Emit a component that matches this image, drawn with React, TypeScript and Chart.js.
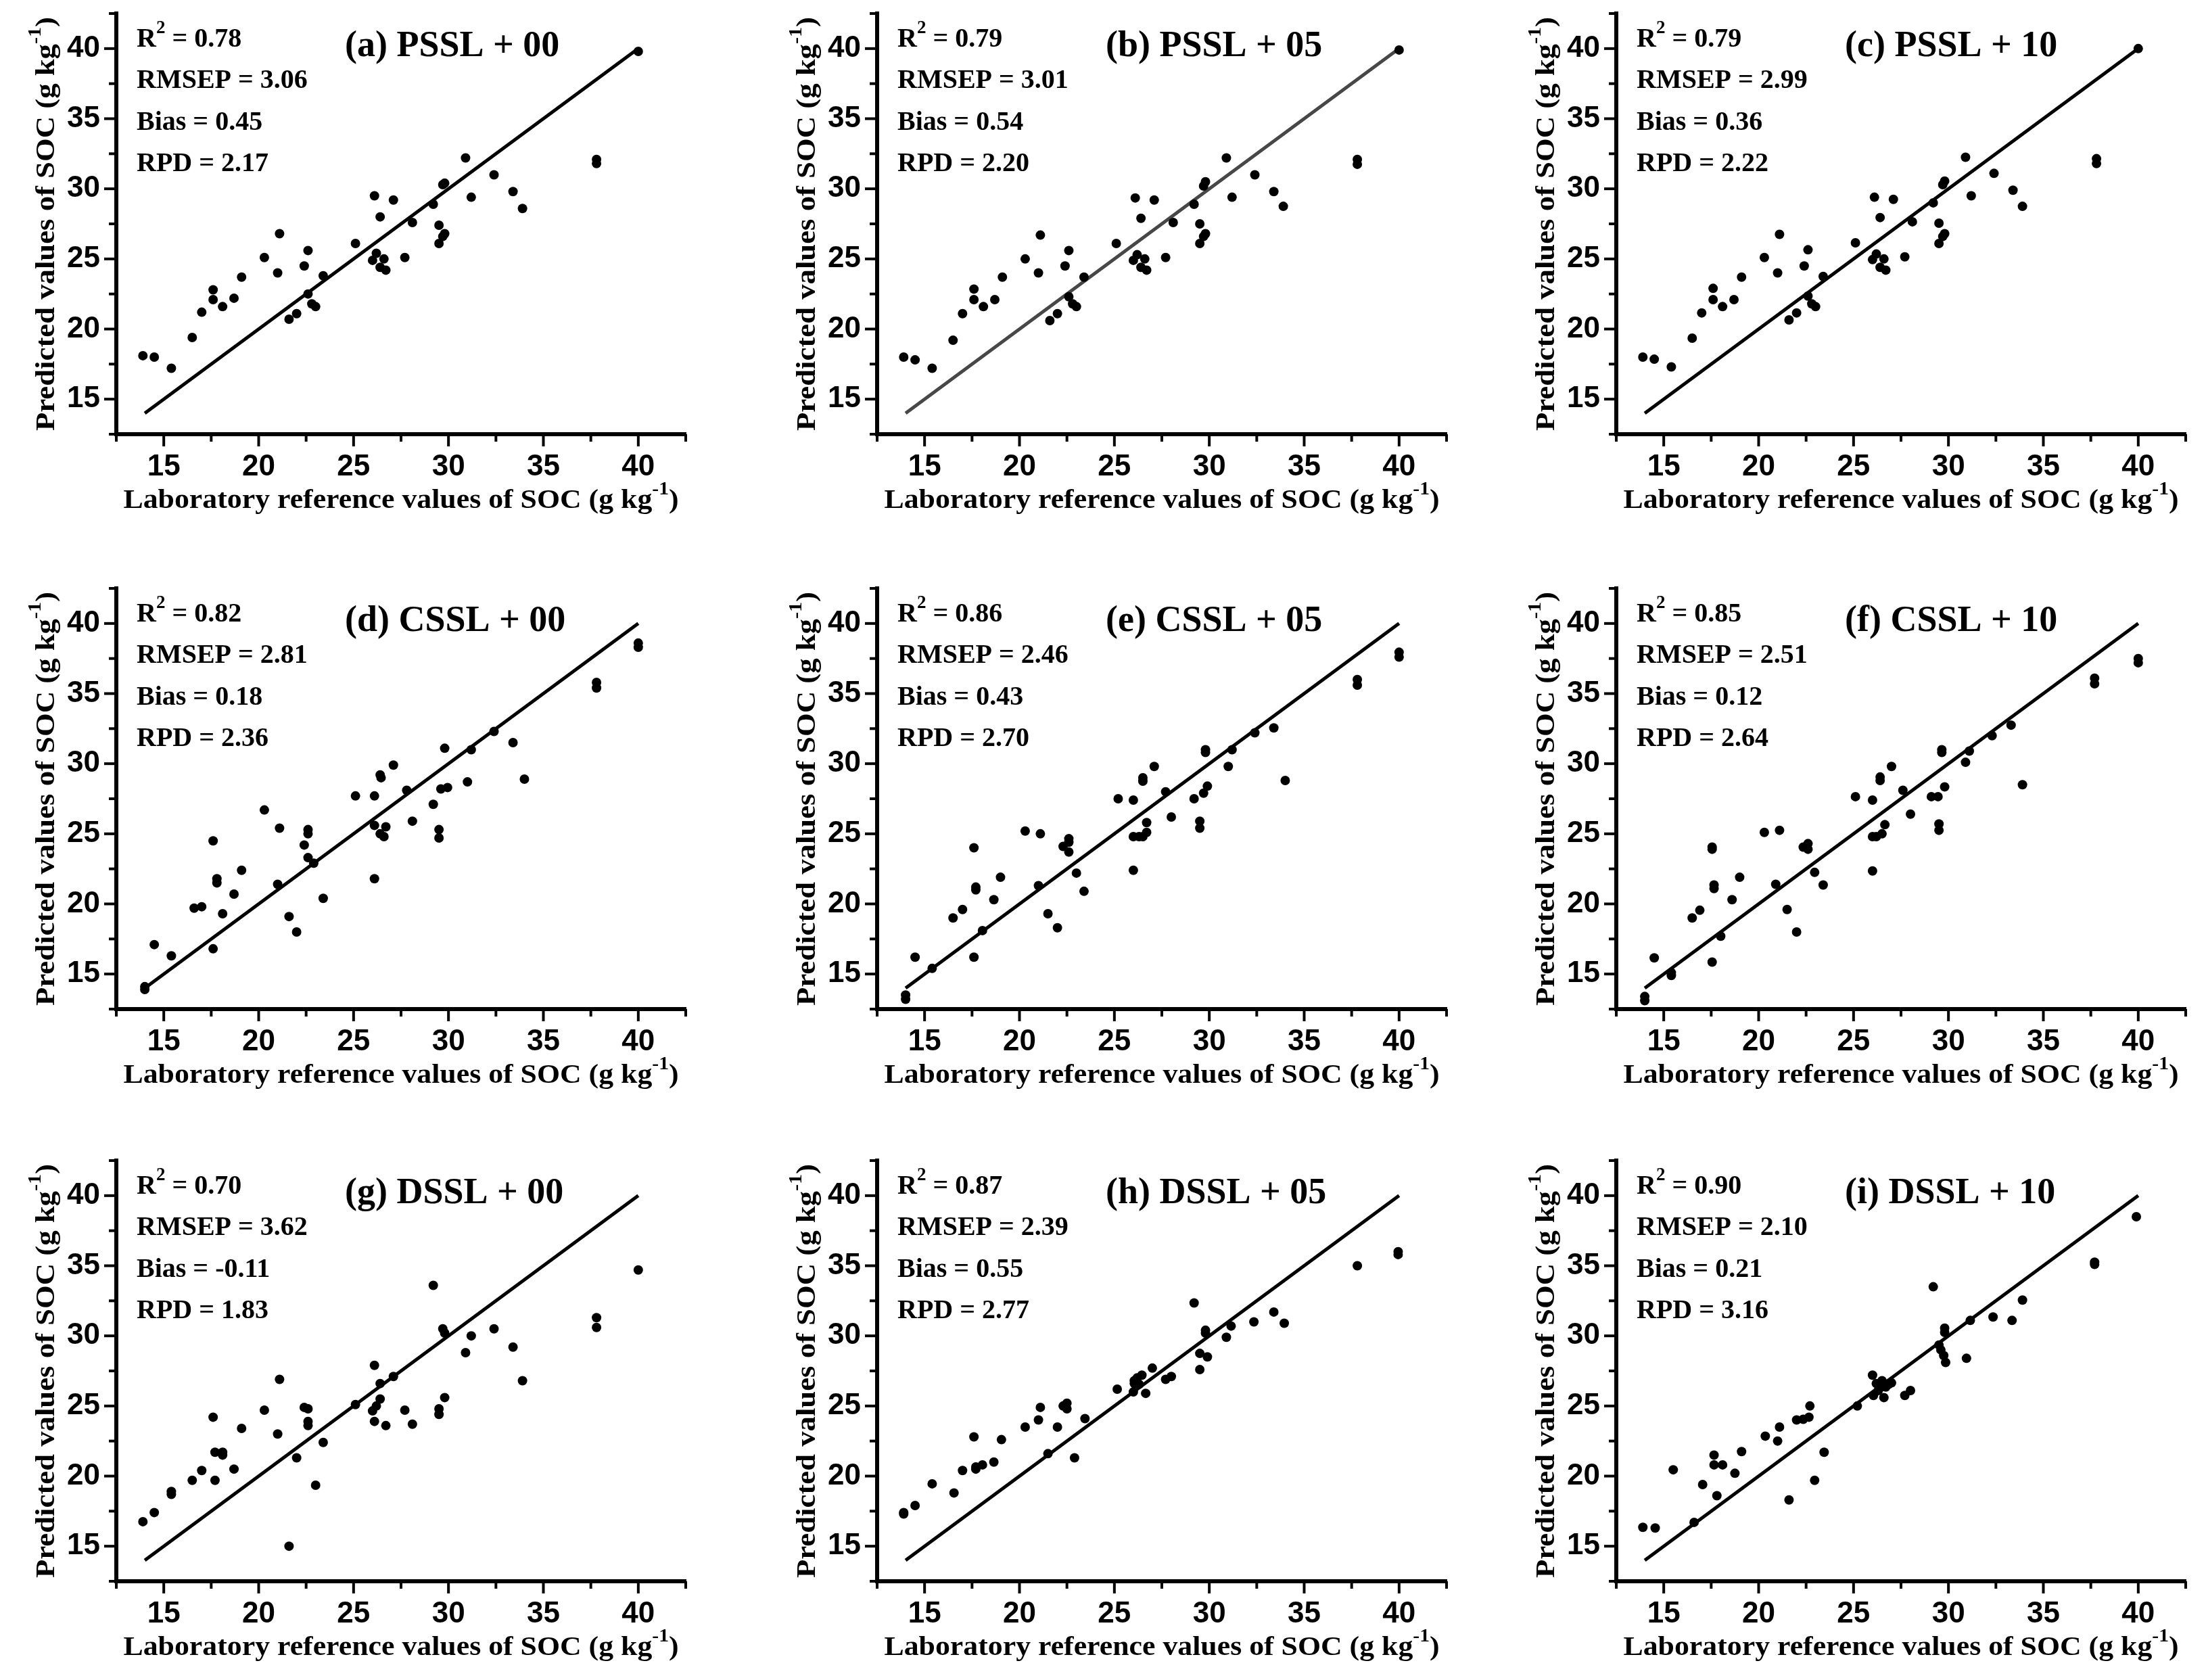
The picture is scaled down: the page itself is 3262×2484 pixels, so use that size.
import React, { useEffect, useRef } from "react";
import { Chart, registerables } from "chart.js";

Chart.register(...registerables);

// ---------------- data ----------------
const labPSSL = [13.9, 14.5, 15.4, 16.5, 17.0, 17.6, 17.6, 18.1, 18.7, 19.1, 20.3, 21.0, 21.1, 21.6, 22.0, 22.4, 22.6, 22.6, 22.8, 23.0, 23.4, 25.1, 26.1, 26.0, 26.2, 26.4, 26.4, 26.6, 26.7, 27.1, 27.7, 28.1, 29.2, 29.5, 29.5, 29.7, 29.8, 29.7, 29.8, 30.9, 31.2, 32.4, 33.4, 33.9, 37.8, 37.8, 40.0];
const predA = [18.1, 18.0, 17.2, 19.4, 21.2, 22.8, 22.1, 21.6, 22.2, 23.7, 25.1, 24.0, 26.8, 20.7, 21.1, 24.5, 25.6, 22.5, 21.8, 21.6, 23.8, 26.1, 29.5, 24.9, 25.4, 24.4, 28.0, 25.0, 24.2, 29.2, 25.1, 27.6, 28.9, 27.4, 26.1, 26.6, 26.8, 30.3, 30.4, 32.2, 29.4, 31.0, 29.8, 28.6, 32.1, 31.8, 39.8];
const predB = [18.0, 17.8, 17.2, 19.2, 21.1, 22.85, 22.1, 21.6, 22.1, 23.7, 25.0, 24.0, 26.7, 20.6, 21.1, 24.5, 25.6, 22.3, 21.8, 21.6, 23.7, 26.1, 29.35, 24.9, 25.3, 24.4, 27.9, 25.0, 24.2, 29.2, 25.1, 27.6, 28.9, 27.5, 26.1, 26.6, 26.8, 30.2, 30.5, 32.2, 29.4, 31.0, 29.8, 28.75, 32.1, 31.75, 39.9];
const predC = [18.0, 17.85, 17.3, 19.35, 21.15, 22.9, 22.1, 21.6, 22.1, 23.7, 25.1, 24.0, 26.75, 20.65, 21.15, 24.5, 25.65, 22.35, 21.8, 21.6, 23.75, 26.15, 29.4, 24.95, 25.35, 24.4, 27.95, 25.0, 24.2, 29.25, 25.15, 27.65, 29.0, 27.55, 26.1, 26.6, 26.8, 30.3, 30.55, 32.25, 29.5, 31.1, 29.9, 28.75, 32.15, 31.8, 40.0];

const labD = [14.0, 14.0, 14.5, 15.4, 16.6, 17.0, 17.6, 17.6, 17.8, 17.8, 18.1, 18.7, 19.1, 20.3, 21.0, 21.1, 21.6, 22.0, 22.4, 22.6, 22.6, 22.6, 22.9, 23.4, 25.1, 26.1, 26.1, 26.1, 26.4, 26.45, 26.4, 26.6, 26.7, 27.1, 27.8, 28.1, 29.2, 29.5, 29.5, 29.6, 29.8, 29.95, 31.0, 31.2, 32.4, 33.4, 34.0, 37.8, 37.8, 40.0, 40.0];
const predD = [14.1, 13.9, 17.1, 16.3, 19.7, 19.8, 24.5, 16.8, 21.8, 21.5, 19.3, 20.7, 22.4, 26.7, 21.4, 25.4, 19.1, 18.0, 24.2, 25.3, 25.0, 23.3, 22.9, 20.4, 27.7, 27.7, 25.6, 21.8, 29.2, 29.0, 25.0, 24.8, 25.5, 29.9, 28.1, 25.9, 27.1, 25.3, 24.7, 28.2, 31.1, 28.3, 28.7, 31.0, 32.3, 31.5, 28.9, 35.8, 35.4, 38.6, 38.3];

const labE = [14.0, 14.0, 14.5, 15.4, 16.5, 17.0, 17.6, 17.6, 17.7, 17.7, 18.05, 18.65, 19.0, 20.3, 21.0, 21.1, 21.5, 22.0, 22.3, 22.6, 22.6, 22.6, 23.0, 23.4, 25.2, 26.0, 26.0, 26.0, 26.5, 26.5, 26.3, 26.5, 26.7, 26.7, 27.1, 27.7, 28.0, 29.2, 29.5, 29.5, 29.7, 29.8, 29.8, 29.9, 31.0, 31.2, 32.4, 33.4, 34.0, 37.8, 37.8, 40.0, 40.0];
const predE = [13.5, 13.2, 16.2, 15.4, 19.0, 19.6, 24.0, 16.2, 21.2, 21.0, 18.1, 20.3, 21.9, 25.2, 21.3, 25.0, 19.3, 18.3, 24.1, 24.65, 24.4, 23.7, 22.2, 20.9, 27.5, 27.4, 24.8, 22.4, 29.0, 28.75, 24.8, 24.8, 25.1, 25.8, 29.8, 28.0, 26.2, 27.5, 25.9, 25.4, 27.9, 31.0, 30.8, 28.4, 29.8, 31.0, 32.2, 32.55, 28.8, 36.0, 35.6, 37.95, 37.6];

const labF = [14.0, 14.0, 14.5, 15.4, 15.4, 16.5, 16.9, 17.55, 17.55, 17.55, 17.65, 17.65, 18.0, 18.6, 19.0, 20.3, 20.9, 21.1, 21.5, 22.0, 22.35, 22.6, 22.6, 22.95, 23.4, 25.1, 26.0, 26.0, 26.0, 26.4, 26.4, 26.2, 26.5, 26.65, 27.0, 27.6, 28.0, 29.1, 29.45, 29.5, 29.5, 29.65, 29.65, 29.8, 30.9, 31.1, 32.3, 33.3, 33.9, 37.7, 37.7, 40.0, 40.0];
const predF = [13.4, 13.1, 16.15, 14.9, 15.1, 19.0, 19.55, 24.05, 23.9, 15.85, 21.35, 21.1, 17.7, 20.3, 21.9, 25.1, 21.4, 25.25, 19.6, 18.0, 24.05, 24.3, 23.9, 22.25, 21.35, 27.65, 27.4, 24.8, 22.35, 29.05, 28.8, 24.8, 25.0, 25.65, 29.8, 28.1, 26.4, 27.65, 27.65, 25.7, 25.25, 31.0, 30.8, 28.35, 30.1, 30.9, 32.0, 32.75, 28.5, 36.1, 35.7, 37.5, 37.2];

const labG = [13.9, 14.5, 15.4, 15.4, 16.5, 17.0, 17.6, 17.7, 17.7, 18.1, 18.1, 18.7, 19.1, 20.3, 21.0, 21.1, 21.6, 22.0, 22.4, 22.6, 22.6, 22.6, 23.0, 23.4, 25.1, 26.1, 26.0, 26.1, 26.2, 26.4, 26.4, 26.7, 27.1, 27.7, 28.1, 29.2, 29.5, 29.5, 29.8, 29.7, 29.8, 30.9, 31.2, 32.4, 33.4, 33.9, 37.8, 37.8, 40.0];
const predG = [16.75, 17.4, 18.9, 18.7, 19.7, 20.4, 24.2, 19.7, 21.7, 21.7, 21.5, 20.5, 23.4, 24.7, 23.0, 26.9, 15.0, 21.3, 24.9, 24.8, 23.9, 23.6, 19.35, 22.4, 25.1, 27.9, 24.65, 23.9, 25.0, 26.6, 25.5, 23.6, 27.1, 24.7, 23.7, 33.6, 24.8, 24.4, 25.6, 30.5, 30.2, 28.8, 30.0, 30.5, 29.2, 26.8, 31.3, 30.6, 34.7];

const labH = [13.9, 13.9, 14.5, 15.4, 16.55, 17.0, 17.6, 17.7, 17.7, 18.05, 18.65, 19.05, 20.3, 21.0, 21.1, 21.5, 22.0, 22.3, 22.5, 22.5, 22.9, 23.45, 25.15, 26.0, 26.05, 26.05, 26.2, 26.3, 26.45, 26.65, 27.0, 27.7, 28.0, 29.2, 29.5, 29.5, 29.8, 29.8, 29.9, 30.9, 31.15, 32.35, 33.4, 33.95, 37.8, 39.95, 39.95];
const predH = [17.4, 17.3, 17.9, 19.45, 18.8, 20.4, 22.8, 20.65, 20.5, 20.8, 21.0, 22.6, 23.5, 24.0, 24.9, 21.6, 23.5, 25.0, 25.2, 24.8, 21.3, 24.1, 26.2, 26.0, 26.8, 26.6, 27.0, 26.55, 27.2, 25.9, 27.7, 26.9, 27.1, 32.35, 27.6, 28.75, 30.4, 30.2, 28.5, 29.9, 30.7, 31.0, 31.7, 30.9, 35.0, 36.0, 35.8];

const labI = [13.9, 14.55, 15.5, 16.6, 17.05, 17.65, 17.65, 17.8, 18.1, 18.75, 19.1, 20.35, 21.0, 21.1, 21.6, 22.0, 22.35, 22.65, 22.7, 22.95, 23.45, 25.2, 26.0, 26.05, 26.2, 26.3, 26.4, 26.5, 26.6, 26.7, 26.85, 27.0, 27.7, 28.0, 29.2, 29.5, 29.6, 29.75, 29.8, 29.8, 29.85, 30.95, 31.15, 32.35, 33.35, 33.9, 37.7, 37.7, 39.9];
const predI = [16.35, 16.3, 20.45, 16.7, 19.4, 21.5, 20.8, 18.6, 20.8, 20.2, 21.75, 22.85, 22.5, 23.5, 18.3, 24.0, 24.05, 24.2, 25.0, 19.7, 21.7, 25.0, 27.2, 25.75, 26.6, 26.1, 26.3, 26.8, 25.6, 26.35, 26.55, 26.65, 25.75, 26.1, 33.5, 29.35, 29.0, 28.6, 30.55, 30.25, 28.1, 28.4, 31.1, 31.35, 31.1, 32.55, 35.25, 35.1, 38.5];

const panelTitles = ["(a) PSSL + 00", "(b) PSSL + 05", "(c) PSSL + 10", "(d) CSSL + 00", "(e) CSSL + 05", "(f) CSSL + 10", "(g) DSSL + 00", "(h) DSSL + 05", "(i) DSSL + 10"];
const r2Values = ["0.78", "0.79", "0.79", "0.82", "0.86", "0.85", "0.70", "0.87", "0.90"];
const rmsepValues = ["3.06", "3.01", "2.99", "2.81", "2.46", "2.51", "3.62", "2.39", "2.10"];
const biasValues = ["0.45", "0.54", "0.36", "0.18", "0.43", "0.12", "-0.11", "0.55", "0.21"];
const rpdValues = ["2.17", "2.20", "2.22", "2.36", "2.70", "2.64", "1.83", "2.77", "3.16"];
const labSeries = [labPSSL, labPSSL, labPSSL, labD, labE, labF, labG, labH, labI];
const predSeries = [predA, predB, predC, predD, predE, predF, predG, predH, predI];
const lineColors = ["#000000", "#474747", "#000000", "#000000", "#000000", "#000000", "#000000", "#000000", "#000000"];
const oneToOne = [14, 40];
const axisMin = 12.5;
const axisMax = 42.5;
const tickStep = 2.5;
const xTitleMain = "Laboratory reference values of SOC (g kg";
const yTitleMain = "Predicted values of SOC (g kg";
const unitSup = "-1";

// ---------------- layout ----------------
const PLOT_LEFTS = [172, 1297, 2390];
const PLOT_TOPS = [20, 870, 1716];
const PLOT_W = 842;
const PLOT_H = 622;
const Y_AXIS_W = 172;
const X_AXIS_H = 140;
const PAD_TOP = 20;
const PAD_RIGHT = 20;
const CANVAS_W = Y_AXIS_W + PLOT_W + PAD_RIGHT;
const CANVAS_H = PAD_TOP + PLOT_H + X_AXIS_H;

const SERIF = '"Liberation Serif", "Times New Roman", serif';
const SANS = '"Liberation Sans", Arial, sans-serif';

type Seg = { t: string; sup?: boolean };

function segWidths(ctx: CanvasRenderingContext2D, segs: Seg[], size: number) {
  return segs.map((s) => {
    ctx.font = `bold ${s.sup ? Math.round(size * 0.68) : size}px ${SERIF}`;
    return ctx.measureText(s.t).width;
  });
}

function drawSegs(ctx: CanvasRenderingContext2D, segs: Seg[], size: number, x: number, y: number) {
  let cx = x;
  segs.forEach((s) => {
    const fs = s.sup ? Math.round(size * 0.68) : size;
    ctx.font = `bold ${fs}px ${SERIF}`;
    ctx.fillText(s.t, cx, s.sup ? y - size * 0.5 : y);
    cx += ctx.measureText(s.t).width;
  });
}

const decoPlugin = {
  id: "panelDeco",
  afterDraw(chart: any) {
    const ctx: CanvasRenderingContext2D = chart.ctx;
    const idx: number = chart.options.plugins.panelDeco.idx;
    const area = chart.chartArea;
    const xs = chart.scales.x;
    const ys = chart.scales.y;
    ctx.save();
    ctx.fillStyle = "#000";
    ctx.strokeStyle = "#000";
    ctx.lineCap = "butt";

    // tick marks (major / minor) from the library scales
    ctx.lineWidth = 4;
    xs.ticks.forEach((t: any) => {
      const px = xs.getPixelForValue(t.value);
      const major = t.value % 5 === 0;
      const len = major ? 15 : 8;
      ctx.beginPath();
      ctx.moveTo(px, area.bottom);
      ctx.lineTo(px, area.bottom + 3 + len);
      ctx.stroke();
    });
    ys.ticks.forEach((t: any) => {
      const py = ys.getPixelForValue(t.value);
      const major = t.value % 5 === 0;
      const len = major ? 15 : 8;
      ctx.beginPath();
      ctx.moveTo(area.left, py);
      ctx.lineTo(area.left - 3 - len, py);
      ctx.stroke();
    });

    // statistics block
    ctx.textAlign = "left";
    ctx.textBaseline = "alphabetic";
    const sx = area.left + 30;
    const stat = 40;
    drawSegs(ctx, [{ t: "R" }, { t: "2", sup: true }, { t: " = " + r2Values[idx] }], stat, sx, area.top + 49);
    drawSegs(ctx, [{ t: "RMSEP = " + rmsepValues[idx] }], stat, sx, area.top + 110);
    drawSegs(ctx, [{ t: "Bias = " + biasValues[idx] }], stat, sx, area.top + 172);
    drawSegs(ctx, [{ t: "RPD = " + rpdValues[idx] }], stat, sx, area.top + 233);

    // panel title
    ctx.font = `bold 54px ${SERIF}`;
    ctx.fillText(panelTitles[idx], area.left + 338, area.top + 63);

    // x axis title
    const tsize = 40;
    const xSegs: Seg[] = [{ t: xTitleMain }, { t: unitSup, sup: true }, { t: ")" }];
    const xw = segWidths(ctx, xSegs, tsize).reduce((a, b) => a + b, 0);
    const xTarget = 821;
    const xcx = (area.left + area.right) / 2;
    ctx.save();
    ctx.translate(xcx - xTarget / 2, area.bottom + 109);
    ctx.scale(xTarget / xw, 1);
    drawSegs(ctx, xSegs, tsize, 0, 0);
    ctx.restore();

    // y axis title
    const ySegs: Seg[] = [{ t: yTitleMain }, { t: unitSup, sup: true }, { t: ")" }];
    const yw = segWidths(ctx, ySegs, tsize).reduce((a, b) => a + b, 0);
    const yTarget = 612;
    const ycy = (area.top + area.bottom) / 2;
    ctx.save();
    ctx.translate(area.left - 92, ycy + yTarget / 2);
    ctx.rotate(-Math.PI / 2);
    ctx.scale(yTarget / yw, 1);
    drawSegs(ctx, ySegs, tsize, 0, 0);
    ctx.restore();

    ctx.restore();
  },
};

function tickLabel(v: any) {
  const n = Number(v);
  return n % 5 === 0 ? String(n) : "";
}

function Panel({ idx }: { idx: number }) {
  const ref = useRef<HTMLCanvasElement | null>(null);
  const col = idx % 3;
  const row = Math.floor(idx / 3);
  const left = PLOT_LEFTS[col] - Y_AXIS_W;
  const top = PLOT_TOPS[row] - PAD_TOP;

  useEffect(() => {
    if (!ref.current) return;
    const lab = labSeries[idx];
    const pred = predSeries[idx];
    const tickFont = { family: SANS, weight: "bold" as const, size: 44 };
    const chart = new Chart(ref.current, {
      type: "scatter",
      data: {
        datasets: [
          {
            data: lab.map((x, i) => ({ x, y: pred[i] })),
            pointRadius: 7,
            pointBackgroundColor: "#000",
            pointBorderWidth: 0,
            pointBorderColor: "#000",
            showLine: false,
            order: 1,
          },
          {
            data: oneToOne.map((v) => ({ x: v, y: v })),
            showLine: true,
            borderColor: lineColors[idx],
            borderWidth: 5,
            pointRadius: 0,
            order: 2,
          },
        ],
      },
      options: {
        responsive: false,
        animation: false,
        devicePixelRatio: 1,
        events: [],
        layout: { padding: { left: 0, top: PAD_TOP, right: PAD_RIGHT, bottom: 0 } },
        plugins: {
          legend: { display: false },
          tooltip: { enabled: false },
          panelDeco: { idx },
        } as any,
        scales: {
          x: {
            type: "linear",
            position: "bottom",
            min: axisMin,
            max: axisMax,
            ticks: {
              stepSize: tickStep,
              autoSkip: false,
              maxRotation: 0,
              padding: 22,
              color: "#000",
              font: tickFont,
              callback: tickLabel,
            },
            grid: { display: false, drawTicks: false },
            border: { display: true, color: "#000", width: 6 },
            afterFit: (s: any) => {
              s.height = X_AXIS_H;
              s.paddingLeft = 0;
              s.paddingRight = 0;
            },
          },
          y: {
            type: "linear",
            position: "left",
            min: axisMin,
            max: axisMax,
            ticks: {
              stepSize: tickStep,
              autoSkip: false,
              padding: 24,
              color: "#000",
              font: tickFont,
              callback: tickLabel,
            },
            grid: { display: false, drawTicks: false },
            border: { display: true, color: "#000", width: 6 },
            afterFit: (s: any) => {
              s.width = Y_AXIS_W;
              s.paddingTop = 0;
              s.paddingBottom = 0;
            },
          },
        },
      },
      plugins: [decoPlugin as any],
    });
    return () => chart.destroy();
  }, [idx]);

  return (
    <canvas
      ref={ref}
      width={CANVAS_W}
      height={CANVAS_H}
      style={{ position: "absolute", left: left + "px", top: top + "px", width: CANVAS_W + "px", height: CANVAS_H + "px" }}
    />
  );
}

export default function App() {
  return (
    <div
      style={{
        position: "fixed",
        left: 0,
        top: 0,
        width: "3262px",
        height: "2484px",
        background: "#fff",
        overflow: "hidden",
      }}
    >
      {panelTitles.map((_, i) => (
        <Panel key={i} idx={i} />
      ))}
    </div>
  );
}
